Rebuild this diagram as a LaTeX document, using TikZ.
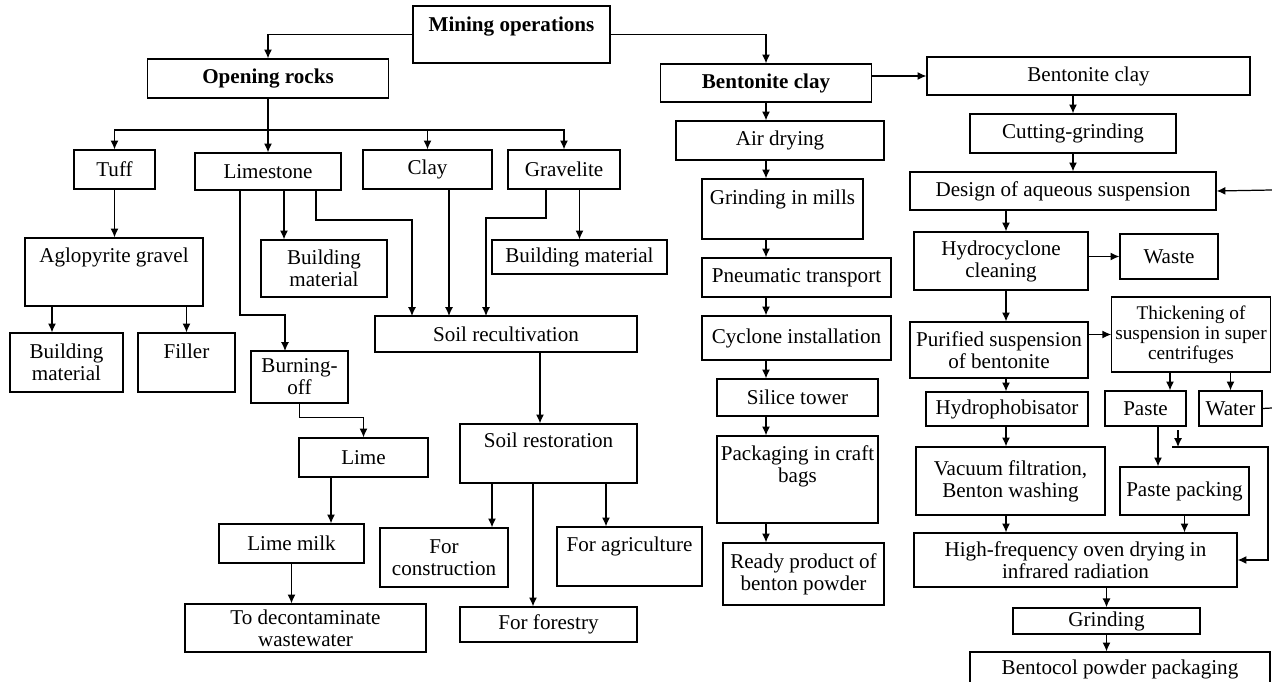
\documentclass[tikz,border=0pt]{standalone}
\usepackage{fontspec}
\setmainfont{Liberation Serif}
\usetikzlibrary{positioning}
\usetikzlibrary{arrows.meta}
\tikzset{
	box/.style={
		draw,
		line width=0.7pt,
		inner xsep=2pt,
		inner ysep=2pt,
		align=center,
		font=\fontsize{12}{12.5}\selectfont
	},
	sz/.style 2 args={
		minimum width=#1*0.02cm,
		minimum height=#2*0.02cm
	},
	lift/.style={text depth=#1*0.02cm},
	arr/.style={line width=0.7pt, -{Latex[length=5pt,width=4.5pt]}},
	wire/.style={line width=0.7pt}
}
\begin{document}
\begin{tikzpicture} [x=0.02cm, y=-0.02cm]
	\useasboundingbox (0,0) rectangle (1272,682);
	\clip (0,0) rectangle (1272,682);

	\node[box, sz={197}{57}, lift=20] (mining) at (511.5,34.5) {\textbf{Mining operations}};
	\node[box, sz={241}{39}] (opening) at (268,78.5) {\textbf{Opening rocks}};
	\node[box, sz={211}{38}] (benl) at (766,83) {\textbf{Bentonite clay}};
	\node[box, sz={323}{38}] (benr) at (1088.5,76) {Bentonite clay};

	\node[box, sz={81}{39}] (tuff) at (114.5,169.5) {Tuff};
	\node[box, sz={146}{37}] (limestone) at (268,171.5) {Limestone};
	\node[box, sz={129}{39}] (clay) at (427.5,169.5) {Clay};
	\node[box, sz={112}{39}] (gravelite) at (564,169.5) {Gravelite};
	\node[box, sz={178}{68}, lift=33] (aglo) at (114,272) {Aglopyrite gravel};
	\node[box, sz={113}{59}] (bmat1) at (66.5,362.5) {Building\\material};
	\node[box, sz={97}{59}, lift=22] (filler) at (186.5,362.5) {Filler};
	\node[box, sz={126}{57}] (bmat2) at (324,268.5) {Building\\material};
	\node[box, sz={175}{34}] (bmat3) at (579.5,257) {Building material};
	\node[box, sz={262}{36}] (soilrec) at (506,334) {Soil recultivation};
	\node[box, sz={97}{52}] (burning) at (299.5,377) {Burning-\\off};
	\node[box, sz={129}{39}] (lime) at (363.5,457.5) {Lime};
	\node[box, sz={145}{39}] (limemilk) at (291.5,543.5) {Lime milk};
	\node[box, sz={241}{48}] (decon) at (305.5,628) {To decontaminate\\wastewater};
	\node[box, sz={177}{59}, lift=26] (soilrest) at (548.5,453.5) {Soil restoration};
	\node[box, sz={128}{59}] (forcons) at (444,557.5) {For\\construction};
	\node[box, sz={177}{35}] (forforest) at (548.5,624.5) {For forestry};
	\node[box, sz={145}{59}, lift=24] (foragri) at (629.5,556.5) {For agriculture};

	\node[box, sz={208}{39}] (airdry) at (780,140.5) {Air drying};
	\node[box, sz={161}{60}, lift=23] (mills) at (782.5,209) {Grinding in mills};
	\node[box, sz={189}{39}] (pneu) at (796.5,277.5) {Pneumatic transport};
	\node[box, sz={189}{44}] (cyclone) at (796.5,338) {Cyclone installation};
	\node[box, sz={161}{37}] (silice) at (797.5,397.5) {Silice tower};
	\node[box, sz={161}{87}, lift=30] (craft) at (797.5,479.5) {Packaging in craft\\bags};
	\node[box, sz={161}{62}] (ready) at (803.5,574) {Ready product of\\benton powder};

	\node[box, sz={206}{39}] (cutgrind) at (1073,133.5) {Cutting-grinding};
	\node[box, sz={306}{38}] (design) at (1063,191) {Design of aqueous suspension};
	\node[box, sz={174}{58}] (hydro) at (1001,261) {Hydrocyclone\\cleaning};
	\node[box, sz={98}{45}] (waste) at (1169,256.5) {Waste};
	\node[box, sz={178}{56}] (purified) at (999,350) {Purified suspension\\of bentonite};
	\node[box, sz={158}{75}, font=\fontsize{11}{11.5}\selectfont] (thick) at (1191,334.5) {Thickening of\\suspension in super\\centrifuges};
	\node[box, sz={162}{34}] (hydrophob) at (1007,409) {Hydrophobisator};
	\node[box, sz={81}{35}] (paste) at (1145.5,408.5) {Paste};
	\node[box, sz={63}{35}] (water) at (1230.5,408.5) {Water};
	\node[box, sz={189}{68}] (vacuum) at (1010.5,481) {Vacuum filtration,\\Benton washing};
	\node[box, sz={129}{48}] (ppack) at (1184.5,491) {Paste packing};
	\node[box, sz={323}{54}] (hf) at (1075.5,560) {High-frequency oven drying in\\infrared radiation};
	\node[box, sz={187}{26}] (grinding) at (1106.5,621) {Grinding};
	\node[box, sz={300}{34}] (bentocol) at (1120,669) {Bentocol powder packaging};

	\draw[arr] (mining.west) -| (opening.north);
	\draw[arr] (mining.east) -| (benl.north);
	\draw[arr] (benl.east |- benr.west) -- (benr.west);

	\coordinate (obr) at (268,130);
	\draw[wire] (opening.south) -- (obr);
	\foreach \n in {tuff,limestone,clay,gravelite}
		\draw[arr] (obr) -| (\n.north);
	\draw[arr] (tuff.south) -- (tuff.south |- aglo.north);
	\coordinate (ag1) at (52,306);
	\draw[arr] (ag1) -- (bmat1.north -| ag1);
	\draw[arr] (aglo.south -| filler.north) -- (filler.north);

	\coordinate (ls1) at (240,190);
	\coordinate (ls2) at (284,190);
	\coordinate (ls3) at (316,190);
	\coordinate (bo) at (285,351);
	\coordinate (sr1) at (412,316);
	\coordinate (sr2) at (449,316);
	\coordinate (sr3) at (486,316);
	\coordinate (gv1) at (546,189);
	\draw[arr] (ls1) -- ++(0,125) -| (bo);
	\draw[arr] (ls2) -- (bmat2.north -| ls2);
	\draw[arr] (ls3) -- ++(0,30) -| (sr1);
	\draw[arr] (clay.south -| sr2) -- (sr2);
	\draw[arr] (gv1) -- ++(0,29) -| (sr3);
	\draw[arr] (gravelite.south -| bmat3.north) -- (bmat3.north);
	\coordinate (sr4) at (540,352);
	\draw[arr] (sr4) -- (soilrest.north -| sr4);
	\draw[arr] (burning.south) -- ++(0,14) -| (lime.north);
	\coordinate (lm) at (331,477);
	\draw[arr] (lm) -- (limemilk.north -| lm);
	\draw[arr] (limemilk.south) -- (limemilk.south |- decon.north);
	\foreach \n/\x in {forcons/492,forforest/533,foragri/606} {
		\coordinate (s\n) at (\x,483);
		\draw[arr] (s\n) -- (\n.north -| s\n);
	}

	\foreach \a/\b in {benl/airdry,airdry/mills,mills/pneu,pneu/cyclone,cyclone/silice,silice/craft,craft/ready}
		\draw[arr] (\a.south -| benl.south) -- (\b.north -| benl.south);

	\draw[arr] (benr.south -| cutgrind.north) -- (cutgrind.north);
	\draw[arr] (cutgrind.south) -- (cutgrind.south |- design.north);
	\coordinate (rc) at (1006,210);
	\foreach \a/\b in {design/hydro,hydro/purified,purified/hydrophob,hydrophob/vacuum,vacuum/hf}
		\draw[arr] (\a.south -| rc) -- (\b.north -| rc);
	\draw[arr] (hydro.east |- waste.west) -- (waste.west);
	\draw[arr] (purified.east |- thick.west) -- (thick.west);
	\coordinate (tp) at (1170,372);
	\draw[arr] (tp) -- (paste.north -| tp);
	\draw[arr] (thick.south -| water.north) -- (water.north);
	\coordinate (pp) at (1158,426);
	\draw[arr] (pp) -- (ppack.north -| pp);
	\draw[arr] (ppack.south) -- (ppack.south |- hf.north);
	\coordinate (fb1) at (1178,430);
	\coordinate (fb2) at (1172,447);
	\draw[arr] (fb1) -- (fb1 |- fb2);
	\draw[arr] (fb2) -- ++(96,0) |- (hf.east);
	\coordinate (wout) at (1272,408);
	\draw[wire] (water.east) -- (wout);
	\coordinate (din) at (1272,190);
	\draw[arr] (din) -- (design.east);
	\draw[arr] (hf.south -| grinding.north) -- (grinding.north);
	\draw[arr] (grinding.south) -- (grinding.south |- bentocol.north);
\end{tikzpicture}
\end{document}
